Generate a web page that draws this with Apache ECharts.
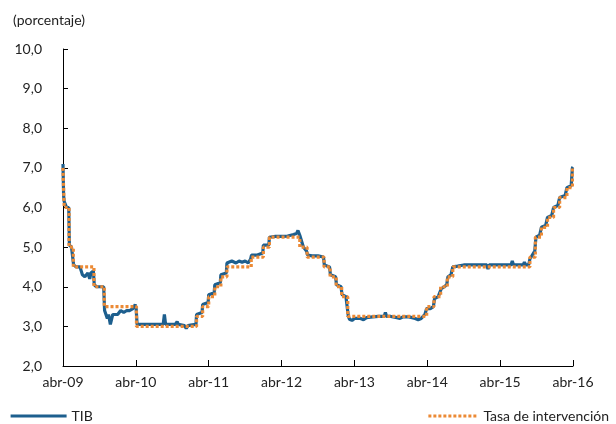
<!DOCTYPE html>
<html><head><meta charset="utf-8">
<script src="https://cdn.jsdelivr.net/npm/echarts@6/dist/echarts.min.js"></script>
<style>html,body{margin:0;padding:0;background:#fff}#c{width:616px;height:424px}</style>
</head><body><div id="c"></div>
<script>
// x = months since abr-09
const yearLabels = ['abr-09','abr-10','abr-11','abr-12','abr-13','abr-14','abr-15','abr-16'];
const yTicks = [2,3,4,5,6,7,8,9,10];
// Tasa de intervención: [month of change, new value]
const tasaSteps = [[0,7.0],[0.2,6.0],[1.0,5.0],[1.7,4.5],[5.1,4.0],[6.8,3.5],[12.1,3.0],[22.0,3.25],[23.0,3.5],[24.0,3.75],[25.0,4.0],[26.0,4.25],[27.0,4.5],[31.0,4.75],[33.0,5.0],[34.0,5.25],[39.0,5.0],[40.2,4.75],[43.0,4.5],[44.0,4.25],[45.0,4.0],[45.9,3.75],[46.9,3.25],[59.9,3.5],[61.1,3.75],[62.2,4.0],[63.3,4.25],[64.2,4.5],[76.9,4.75],[77.8,5.25],[78.8,5.5],[79.8,5.75],[80.8,6.0],[81.8,6.25],[83.0,6.5],[83.9,7.0],[84.0,7.0]];
// TIB: [month, value]
const tibPoints = [[0,7.1],[0.1,6.3],[0.2,6.15],[0.4,6.1],[0.6,6.0],[0.95,6.0],[1.05,5.05],[1.4,5.0],[1.65,4.95],[1.75,4.55],[2.2,4.5],[2.8,4.5],[3.0,4.4],[3.2,4.3],[3.6,4.25],[3.9,4.2],[4.1,4.35],[4.3,4.4],[4.4,4.2],[4.6,4.35],[4.8,4.4],[5.0,4.4],[5.15,4.05],[5.5,4.0],[6.7,4.0],[6.85,3.4],[7.0,3.35],[7.3,3.2],[7.5,3.3],[7.8,3.05],[8.0,3.0],[8.2,3.3],[8.5,3.35],[9.0,3.3],[9.5,3.4],[10.0,3.35],[10.5,3.4],[11.0,3.4],[11.5,3.45],[11.9,3.55],[12.05,3.45],[12.2,3.05],[13,3.05],[14,3.05],[15,3.05],[16.5,3.05],[16.7,3.3],[16.9,3.05],[17.5,3.05],[18.5,3.05],[18.8,3.12],[19.0,3.05],[20,3.02],[20.3,2.95],[20.6,3.02],[21,3.03],[21.9,3.05],[22.0,3.3],[22.9,3.35],[23.0,3.55],[23.9,3.6],[24.0,3.8],[24.9,3.85],[25.0,4.05],[25.9,4.1],[26.0,4.3],[26.9,4.35],[27.0,4.6],[27.8,4.65],[28.5,4.6],[29,4.65],[29.5,4.62],[30,4.65],[30.5,4.6],[30.9,4.7],[31.05,4.8],[32,4.8],[32.9,4.85],[33.0,5.05],[33.9,5.05],[34.0,5.25],[35,5.27],[36,5.27],[37,5.28],[37.5,5.3],[38,5.32],[38.5,5.35],[38.7,5.42],[39.0,5.3],[39.3,5.15],[39.6,5.0],[40.1,4.9],[40.3,4.8],[41,4.78],[42,4.78],[42.9,4.75],[43.05,4.55],[43.9,4.5],[44.05,4.3],[44.9,4.25],[45.05,4.05],[45.8,4.0],[45.95,3.8],[46.6,3.75],[46.85,3.7],[47.0,3.25],[47.2,3.18],[47.6,3.15],[48,3.2],[49,3.2],[49.5,3.17],[50,3.22],[51,3.24],[52,3.25],[52.9,3.25],[53.1,3.35],[53.3,3.25],[54,3.25],[55,3.22],[55.5,3.2],[56,3.24],[57,3.24],[58,3.2],[58.5,3.17],[59,3.2],[59.6,3.3],[59.9,3.45],[60.5,3.45],[61.0,3.5],[61.2,3.7],[61.8,3.75],[62.1,3.75],[62.3,3.95],[62.8,4.0],[63.2,4.05],[63.4,4.25],[63.9,4.3],[64.2,4.5],[64.5,4.55],[65,4.52],[66,4.55],[67,4.55],[68,4.55],[69,4.55],[69.8,4.55],[70,4.45],[70.2,4.55],[71,4.55],[72,4.55],[73,4.55],[73.8,4.55],[74,4.65],[74.2,4.55],[75,4.55],[75.8,4.55],[76.0,4.62],[76.2,4.55],[76.7,4.55],[76.9,4.7],[77.3,4.8],[77.7,4.9],[77.9,5.25],[78.5,5.3],[78.8,5.5],[79.5,5.55],[79.8,5.75],[80.5,5.8],[80.8,6.0],[81.5,6.05],[81.8,6.25],[82.7,6.3],[83.0,6.5],[83.7,6.55],[83.9,7.0],[84,7.02]];

const FONT = 'Lato';
const chart = echarts.init(document.getElementById('c'));
chart.setOption({
  animation: false,
  backgroundColor: '#fff',
  textStyle: {fontFamily: FONT},
  title: {text: '(porcentaje)', left: 8, top: 8, textStyle: {fontFamily: FONT, fontSize: 14, fontWeight: 'normal', color: '#222'}},
  grid: {left: 63, right: 43, top: 49, bottom: 58},
  legend: [
    {data: ['TIB'], left: 4, top: 404, itemWidth: 56, itemHeight: 12, itemGap: 4, itemStyle: {opacity: 0},
     lineStyle: {width: 3.2},
     textStyle: {fontFamily: FONT, fontSize: 14, color: '#222'}},
    {data: ['Tasa de intervención'], right: 2, top: 404, itemWidth: 50, itemHeight: 12, itemStyle: {opacity: 0},
     lineStyle: {width: 3.2},
     textStyle: {fontFamily: FONT, fontSize: 14, color: '#222'}}
  ],
  xAxis: {
    type: 'value', min: 0, max: 84, interval: 12,
    axisLine: {lineStyle: {color: '#000', width: 1}},
    axisTick: {inside: true, length: 6, lineStyle: {color: '#000'}},
    splitLine: {show: false},
    axisLabel: {margin: 9, fontFamily: FONT, fontSize: 14, color: '#222', formatter: v => yearLabels[Math.round(v / 12)] || ''}
  },
  yAxis: {
    type: 'value', min: yTicks[0], max: yTicks[yTicks.length - 1], interval: 1,
    axisLine: {show: true, lineStyle: {color: '#000', width: 1}},
    axisTick: {show: true, inside: true, length: 5, lineStyle: {color: '#000'}},
    splitLine: {show: false},
    axisLabel: {margin: 21, fontFamily: FONT, fontSize: 14, color: '#222', formatter: v => v.toFixed(1).replace('.', ',')}
  },
  series: [
    {name: 'TIB', type: 'line', data: tibPoints, symbol: 'none', color: '#1d5f8e',
     lineStyle: {color: '#1d5f8e', width: 3.2}, z: 2},
    {name: 'Tasa de intervención', type: 'line', step: 'end', data: tasaSteps, symbol: 'none', color: '#ec8a35',
     lineStyle: {color: '#ec8a35', width: 3.2, type: [3, 2]}, z: 3}
  ]
});
</script></body></html>
